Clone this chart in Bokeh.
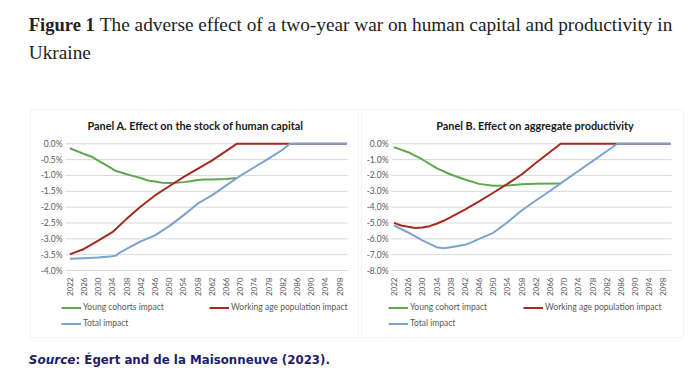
import math
from bokeh.plotting import figure
from bokeh.models import (Legend, LegendItem, Range1d, BoxAnnotation)
from bokeh.core.properties import value
from bokeh.embed import file_html
from bokeh.resources import INLINE

# ---------------- data ----------------
x_ticks = [2022, 2026, 2030, 2034, 2038, 2042, 2046, 2050, 2054, 2058,
           2062, 2066, 2070, 2074, 2078, 2082, 2086, 2090, 2094, 2098]
x_tick_labels = ["2022", "2026", "2030", "2034", "2038", "2042", "2046", "2050", "2054", "2058",
                 "2062", "2066", "2070", "2074", "2078", "2082", "2086", "2090", "2094", "2098"]
a_y_ticks = [-4.0, -3.5, -3.0, -2.5, -2.0, -1.5, -1.0, -0.5, 0.0]
a_y_tick_labels = ["-4.0%", "-3.5%", "-3.0%", "-2.5%", "-2.0%", "-1.5%", "-1.0%", "-0.5%", "0.0%"]
b_y_ticks = [-8.0, -7.0, -6.0, -5.0, -4.0, -3.0, -2.0, -1.0, 0.0]
b_y_tick_labels = ["-8.0%", "-7.0%", "-6.0%", "-5.0%", "-4.0%", "-3.0%", "-2.0%", "-1.0%", "0.0%"]

# Panel A: effect on the stock of human capital (%)
a_young_years = [2022, 2026, 2028, 2030, 2032, 2034, 2035, 2036, 2038, 2040, 2042,
                 2044, 2046, 2048, 2050, 2052, 2054, 2056, 2058, 2060, 2062, 2066, 2069]
a_young_vals = [-0.14, -0.32, -0.40, -0.53, -0.66, -0.79, -0.86, -0.89, -0.96, -1.02, -1.08,
                -1.16, -1.19, -1.23, -1.24, -1.23, -1.21, -1.18, -1.14, -1.13, -1.13, -1.11, -1.08]
a_work_years = [2022, 2026, 2030, 2034, 2038, 2042, 2046, 2050, 2054, 2058, 2062, 2066, 2069, 2100]
a_work_vals = [-3.49, -3.32, -3.06, -2.79, -2.37, -1.98, -1.63, -1.34, -1.05, -0.79, -0.53, -0.23, 0.0, 0.0]
a_total_years = [2022, 2026, 2030, 2034, 2035, 2036, 2038, 2042, 2046, 2050, 2054, 2058,
                 2062, 2066, 2070, 2074, 2078, 2082, 2084, 2100]
a_total_vals = [-3.63, -3.61, -3.59, -3.55, -3.53, -3.44, -3.32, -3.08, -2.89, -2.60, -2.26, -1.89,
                -1.63, -1.32, -1.01, -0.74, -0.47, -0.18, 0.0, 0.0]

# Panel B: effect on aggregate productivity (%)
b_young_years = [2022, 2026, 2030, 2034, 2038, 2042, 2046, 2050, 2054, 2058, 2062, 2069]
b_young_vals = [-0.21, -0.53, -0.99, -1.54, -1.94, -2.25, -2.53, -2.65, -2.63, -2.55, -2.53, -2.51]
b_work_years = [2022, 2024, 2026, 2028, 2030, 2032, 2034, 2036, 2038, 2042, 2046, 2050,
                2054, 2058, 2062, 2066, 2069, 2100]
b_work_vals = [-4.99, -5.16, -5.24, -5.31, -5.29, -5.20, -5.05, -4.86, -4.63, -4.15, -3.64, -3.09,
               -2.53, -1.94, -1.21, -0.52, 0.0, 0.0]
b_total_years = [2022, 2026, 2030, 2034, 2036, 2038, 2042, 2044, 2046, 2050, 2054, 2058,
                 2062, 2066, 2070, 2074, 2078, 2082, 2085, 2100]
b_total_vals = [-5.16, -5.60, -6.10, -6.53, -6.59, -6.53, -6.38, -6.21, -6.00, -5.62, -4.95, -4.21,
                -3.58, -2.98, -2.34, -1.72, -1.09, -0.47, 0.0, 0.0]

# ---------------- style / layout ----------------
GREEN = "#5DA84F"
RED = "#A52A1E"
BLUE = "#7BA3CF"
GRID = "#D9D9D9"
LBL = "#595959"
FONT = "Lato"
NAVY = "#1F1D6B"

W, H = 684, 376          # canvas size
OX, OY = 0, 0            # canvas offset on the page (measured)

p = figure(width=W, height=H, x_range=Range1d(0, W), y_range=Range1d(H, 0),
           x_axis_location=None, y_axis_location=None, min_border=0,
           output_backend="svg", toolbar_location=None)
p.grid.visible = False
p.outline_line_color = None
p.background_fill_color = "white"
p.border_fill_color = "white"


def add_panel(name, box, year0_px, px_per_year, grid_px, ymin, yticks, ylabels,
              title, title_cx, series, labels, leg1_x, leg2_x):
    # pixel geometry (page coordinates) -> scales of this panel
    zero_px, low_px = 143.3 - OY, 270.0 - OY
    ppu = (low_px - zero_px) / (0 - ymin)
    x0 = year0_px - OX
    xr = Range1d(2022 - x0 / px_per_year, 2022 + (W - x0) / px_per_year)
    yr = Range1d(0 - (H - zero_px) / ppu, 0 + zero_px / ppu)
    p.extra_x_ranges[name] = xr
    p.extra_y_ranges[name] = yr
    g0 = 2022 + (grid_px[0] - OX - x0) / px_per_year
    g1 = 2022 + (grid_px[1] - OX - x0) / px_per_year

    # chart box
    p.add_layout(BoxAnnotation(left=box[0] - OX, right=box[1] - OX,
                               top=box[2] - OY, bottom=box[3] - OY,
                               fill_alpha=0, line_color=GRID, line_width=1))
    # horizontal gridlines
    p.segment(x0=[g0] * len(yticks), x1=[g1] * len(yticks), y0=yticks, y1=yticks,
              line_color=GRID, line_width=1, x_range_name=name, y_range_name=name)
    # value labels
    p.text(x=[g0] * len(yticks), y=yticks, text=ylabels, x_offset=-3,
           text_align="right", text_baseline="middle", text_font=value(FONT),
           text_font_size="8.5px", text_color=LBL, x_range_name=name, y_range_name=name)
    # year labels, rotated
    p.text(x=x_ticks, y=[ymin] * len(x_ticks), text=x_tick_labels,
           angle=math.pi / 2, text_align="right", text_baseline="middle",
           y_offset=7, text_font_size="8px", text_color=LBL, text_font=value(FONT),
           x_range_name=name, y_range_name=name)
    # panel title
    p.text(x=[title_cx - OX], y=[125 - OY], text=[title], text_align="center",
           text_baseline="middle", text_font=value(FONT), text_font_style="bold",
           text_font_size="10.9px", text_color="#1A1A1A")

    rs = []
    for (xs, ys, col) in series:
        rs.append(p.line(xs, ys, line_color=col, line_width=2,
                         x_range_name=name, y_range_name=name))

    leg1 = Legend(items=[LegendItem(label=labels[0], renderers=[rs[0]]),
                         LegendItem(label=labels[2], renderers=[rs[2]])],
                  location=(leg1_x - OX, H - (329.5 - OY)))
    leg2 = Legend(items=[LegendItem(label=labels[1], renderers=[rs[1]])],
                  location=(leg2_x - OX, H - (313.5 - OY)))
    for L in (leg1, leg2):
        L.border_line_color = None
        L.background_fill_alpha = 0
        L.padding = 0
        L.margin = 0
        L.spacing = 3
        L.glyph_width = 20
        L.glyph_height = 13
        L.label_height = 13
        L.label_standoff = 2
        L.label_text_font = FONT
        L.label_text_font_size = "8.5px"
        L.label_text_color = LBL
        p.add_layout(L)


add_panel("a", (30, 358, 109, 337), 69.3, 3.55, (65, 347), -4.0, a_y_ticks, a_y_tick_labels,
          "Panel A. Effect on the stock of human capital", 195,
          [(a_young_years, a_young_vals, GREEN),
           (a_work_years, a_work_vals, RED),
           (a_total_years, a_total_vals, BLUE)],
          ["Young cohorts impact", "Working age population impact", "Total impact"],
          61, 209)

add_panel("b", (361, 683, 109, 337), 393.5, 3.545, (391, 671), -8.0, b_y_ticks, b_y_tick_labels,
          "Panel B. Effect on aggregate productivity", 534.5,
          [(b_young_years, b_young_vals, GREEN),
           (b_work_years, b_work_vals, RED),
           (b_total_years, b_total_vals, BLUE)],
          ["Young cohort impact", "Working age population impact", "Total impact"],
          388, 523)

# figure title (two lines, serif)
p.text(x=[28.3 - OX], y=[24 - OY], text=["Figure 1"], text_baseline="middle",
       text_font=value("Liberation Serif"), text_font_style="bold",
       text_font_size="18.5px", text_color="#222222")
p.text(x=[99.3 - OX], y=[24 - OY],
       text=["The adverse effect of a two-year war on human capital and productivity in"],
       text_baseline="middle", text_font=value("Liberation Serif"),
       text_font_size="19.3px", text_color="#222222")
p.text(x=[28.3 - OX], y=[52.3 - OY], text=["Ukraine"], text_baseline="middle",
       text_font=value("Liberation Serif"), text_font_size="19.3px", text_color="#222222")

# source note
p.text(x=[28.3 - OX], y=[359.5 - OY], text=["Source"], text_baseline="middle",
       text_font=value("DejaVu Sans"), text_font_style="bold italic",
       text_font_size="12px", text_color=NAVY)
p.text(x=[75 - OX], y=[359.5 - OY], text=[": Égert and de la Maisonneuve (2023)."],
       text_baseline="middle", text_font=value("DejaVu Sans"),
       text_font_style="bold", text_font_size="11.8px", text_color=NAVY)

open("out.html", "w").write(file_html(p, INLINE))
